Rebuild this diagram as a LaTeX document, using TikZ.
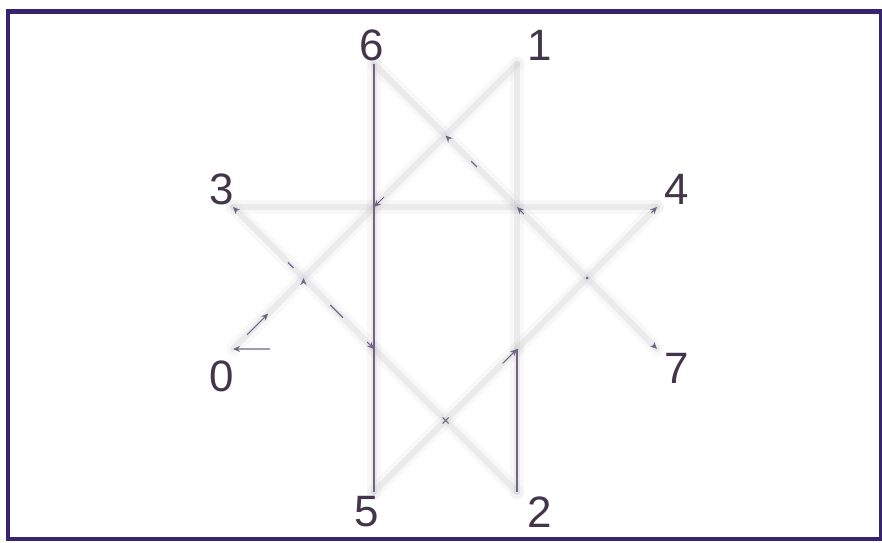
\documentclass[tikz,border=0pt]{standalone}
\usepackage{fontspec}
\setmainfont{Liberation Sans}
\usetikzlibrary{arrows.meta, positioning, calc}
\definecolor{framepurple}{RGB}{55,35,110}
\definecolor{digitgray}{RGB}{68,54,74}
\definecolor{tracegray}{RGB}{112,102,130}
\definecolor{ghostgray}{RGB}{200,200,204}
\tikzset{
  ghosthalo/.style={draw=ghostgray, line width=8pt, line cap=round, opacity=0.12},
  ghost/.style={draw=ghostgray, line width=3.5pt, line cap=round, opacity=0.28},
  trace/.style={draw=tracegray, line width=0.7pt},
  tip/.style={-{Stealth[length=4pt,width=3.5pt]}, draw=tracegray, line width=0.6pt},
  digit/.style={text=digitgray, font=\fontsize{25}{25}\selectfont, inner sep=0pt},
}

\begin{document}
\begin{tikzpicture}[x=0.02cm, y=-0.02cm]
  \useasboundingbox (0,0) rectangle (882,543);
  \draw[framepurple, line width=2.8pt] (8,11.5) rectangle (881,539);

  % outer points of the octagon
  \coordinate (p0) at (233,349);
  \coordinate (p1) at (517,64);
  \coordinate (p2) at (517,492);
  \coordinate (p3) at (233,207);
  \coordinate (p4) at (657,207);
  \coordinate (p5) at (374,492);
  \coordinate (p6) at (374,64);
  \coordinate (p7) at (657,349);
  % inner corners
  \coordinate (a) at (374,207);
  \coordinate (b) at (517,207);
  \coordinate (c) at (374,349);
  \coordinate (d) at (517,349);
  % crossings
  \coordinate (mt) at (445.5,135.5);
  \coordinate (ml) at (303.5,278);
  \coordinate (mr) at (587,278);
  \coordinate (mb) at (445.5,420.5);

  % faint edges
  \foreach \u/\v in {p3/p4, p6/p5, p1/p2, p6/b, p1/a, p3/c, p0/a,
                     p4/d, p7/b, p5/d, p2/c} {
    \draw[ghosthalo] (\u) -- (\v);
    \draw[ghost] (\u) -- (\v);
  }

  % traced edges
  \draw[trace] (p6) -- (p5);
  \draw[trace] (d) -- (p2);
  \draw[tip] ($(p0)!0.087!(p7)$) -- (p0);
  \draw[tip] ($(p0)!0.1!(a)$) -- ($(p0)!0.25!(a)$);
  \draw[trace] ($(p3)!0.39!(c)$) -- ($(p3)!0.43!(c)$);
  \draw[trace] ($(p3)!0.69!(c)$) -- ($(p3)!0.78!(c)$);
  \draw[trace] ($(p6)!0.68!(b)$) -- ($(p6)!0.72!(b)$);
  \draw[tip] ($(d)!0.1!(p5)$) -- (d);

  % small arrowheads
  \draw[tip] ($(a)!0.07!(p1)$) -- (a);
  \draw[tip] ($(b)!0.05!(p7)$) -- (b);
  \draw[tip] ($(p4)!0.04!(d)$) -- (p4);
  \draw[tip] ($(p7)!0.03!(b)$) -- (p7);
  \draw[tip] ($(p3)!0.03!(c)$) -- (p3);
  \draw[tip] ($(c)!0.05!(p3)$) -- (c);
  \draw[tip] ($(ml)+(0,5)$) -- (ml);
  \draw[tip] ($(mt)!0.04!(b)$) -- (mt);
  \fill[tracegray] (mr) circle (1.5);
  \draw[trace, line width=0.6pt] ($(mb)+(-3,-3)$) -- ($(mb)+(3,3)$)
                                 ($(mb)+(-3,3)$) -- ($(mb)+(3,-3)$);

  % labels
  \node[digit] (l6) at (372,45) {6};
  \node[digit] (l1) at (540,45) {1};
  \node[digit] (l3) at (222,189) {3};
  \node[digit] (l4) at (677,189) {4};
  \node[digit] (l0) at (222,376) {0};
  \node[digit] (l7) at (677,368) {7};
  \node[digit] (l5) at (367,512) {5};
  \node[digit] (l2) at (540,512) {2};
\end{tikzpicture}
\end{document}
